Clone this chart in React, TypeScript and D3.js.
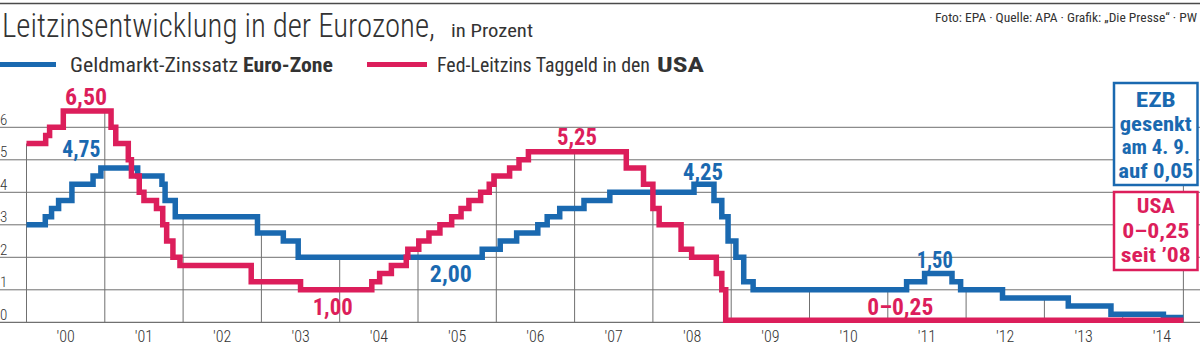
import React from 'react';
import * as d3 from 'd3';

// ---------- DATA ----------
// Step series: [start as decimal year, rate in %]
const ezbSteps: [number, number][] = [
  [2000.0, 3.0], [2000.24, 3.25], [2000.32, 3.5], [2000.41, 3.75], [2000.58, 4.25],
  [2000.85, 4.5], [2000.95, 4.75], [2001.42, 4.5], [2001.73, 4.25], [2001.77, 3.75],
  [2001.9, 3.25], [2002.95, 2.75], [2003.28, 2.5], [2003.47, 2.0], [2005.82, 2.25],
  [2006.05, 2.5], [2006.26, 2.75], [2006.53, 3.0], [2006.65, 3.25], [2006.81, 3.5],
  [2007.12, 3.75], [2007.45, 4.0], [2008.525, 4.25], [2008.78, 3.75], [2008.88, 3.25],
  [2008.96, 2.5], [2009.06, 2.0], [2009.16, 1.25], [2009.28, 1.0], [2011.24, 1.25],
  [2011.47, 1.5], [2011.82, 1.25], [2011.93, 1.0], [2012.465, 0.75], [2013.305, 0.5],
  [2013.85, 0.25], [2014.52, 0.15],
];

const fedSteps: [number, number][] = [
  [2000.0, 5.5], [2000.245, 5.75], [2000.295, 6.0], [2000.47, 6.5], [2001.08, 6.0],
  [2001.14, 5.5], [2001.3, 5.0], [2001.34, 4.5], [2001.44, 4.0], [2001.5, 3.75],
  [2001.66, 3.5], [2001.74, 3.0], [2001.79, 2.5], [2001.87, 2.0], [2001.96, 1.75],
  [2002.87, 1.25], [2003.5, 1.0], [2004.41, 1.25], [2004.51, 1.5], [2004.66, 1.75],
  [2004.85, 2.0], [2004.87, 2.25], [2005.01, 2.5], [2005.14, 2.75], [2005.28, 3.0],
  [2005.43, 3.25], [2005.55, 3.5], [2005.65, 3.75], [2005.8, 4.0], [2005.91, 4.25],
  [2005.97, 4.5], [2006.17, 4.75], [2006.29, 5.0], [2006.41, 5.25], [2007.66, 4.75],
  [2007.88, 4.25], [2008.0, 3.5], [2008.08, 3.0], [2008.36, 2.25], [2008.495, 2.0],
  [2008.81, 1.5], [2008.88, 1.0], [2008.93, 0.06],
];

const seriesEnd = 2014.775;

const years = d3.range(2000, 2015);
const yearLabels = ["'00", "'01", "'02", "'03", "'04", "'05", "'06", "'07", "'08", "'09", "'10", "'11", "'12", "'13", "'14"];
const yTicks = [0, 1, 2, 3, 4, 5, 6];

const valueLabels = [
  { text: '6,50', series: 'fed', t: 2000.76, v: 6.5 },
  { text: '4,75', series: 'ezb', t: 2000.7, v: 4.75 },
  { text: '1,00', series: 'fed', t: 2003.91, v: 1.0 },
  { text: '2,00', series: 'ezb', t: 2005.42, v: 2.0 },
  { text: '5,25', series: 'fed', t: 2007.03, v: 5.25 },
  { text: '4,25', series: 'ezb', t: 2008.64, v: 4.25 },
  { text: '1,50', series: 'ezb', t: 2011.6, v: 1.5 },
  { text: '0–0,25', series: 'fed', t: 2011.16, v: 0.06 },
];

const ezbNote = ['EZB', 'gesenkt', 'am 4. 9.', 'auf 0,05'];
const fedNote = ['USA', '0–0,25', 'seit ’08'];

// ---------- LAYOUT / STYLE ----------
const labelDy = [-6, -11, 25, 25, -7, -4, -5.5, -5];
const labelW = [42, 38, 40, 42, 40, 40, 36, 66];
const ezbNoteW = [40, 72, 68, 75];
const fedNoteW = [38, 67, 70];

const BLUE = '#1a69b0';
const RED = '#dc1e5b';
const GRID = '#707070';
const TXT = '#333333';
const FONT = "'Roboto Condensed', 'Liberation Sans Narrow', 'DejaVu Sans Condensed', Roboto, 'Open Sans', sans-serif";

export default function App() {
  const W = 1200;
  const H = 346;
  const x = d3.scaleLinear().domain([2000, 2015]).range([26.5, 1201]);
  const y = d3.scaleLinear().domain([0, 6]).range([322.3, 127.3]);

  const withEnd = (s: [number, number][]) => [...s, [seriesEnd, s[s.length - 1][1]] as [number, number]];
  const line = d3
    .line<[number, number]>()
    .x((d) => x(d[0]))
    .y((d) => y(d[1]))
    .curve(d3.curveStepAfter);

  const bis = d3.bisector((d: [number, number]) => d[0]).right;
  const valueAt = (s: [number, number][], t: number) => {
    const i = bis(s, t) - 1;
    return s[Math.max(0, i)][1];
  };

  const boxX = 1114;
  const boxW = 83.5;
  const ezbBox = { y: 83, h: 102 };
  const fedBox = { y: 192, h: 78 };
  const cx = boxX + boxW / 2;

  return (
    <svg
      width={W}
      height={H}
      viewBox={`0 0 ${W} ${H}`}
      style={{ position: 'absolute', left: 0, top: 0, background: '#fff', fontFamily: FONT }}
    >
      <rect x={0} y={0} width={W} height={H} fill="#fff" />
      {/* top rule */}
      <line x1={0} x2={W} y1={3.5} y2={3.5} stroke="#4a4a4a" strokeWidth={1.5} />

      {/* header */}
      <text x={2} y={37} fontSize={33} fontWeight={300} fill={TXT} textLength={433} lengthAdjust="spacingAndGlyphs">
        Leitzinsentwicklung in der Eurozone,
      </text>
      <text x={451} y={37} fontSize={18} fontWeight={400} fill={TXT} textLength={82} lengthAdjust="spacingAndGlyphs">
        in Prozent
      </text>
      <text x={1197} y={22} fontSize={13} fill={TXT} textAnchor="end" textLength={262} lengthAdjust="spacingAndGlyphs">
        Foto: EPA · Quelle: APA · Grafik: „Die Presse“ · PW
      </text>

      {/* legend */}
      <line x1={0} x2={56} y1={64.5} y2={64.5} stroke={BLUE} strokeWidth={5} />
      <text x={70} y={72} fontSize={20} fill={TXT} textLength={168} lengthAdjust="spacingAndGlyphs">
        Geldmarkt-Zinssatz
      </text>
      <text x={243} y={72} fontSize={20} fontWeight={700} fill={TXT} textLength={90} lengthAdjust="spacingAndGlyphs">
        Euro-Zone
      </text>
      <line x1={367} x2={427} y1={64.5} y2={64.5} stroke={RED} strokeWidth={5} />
      <text x={437} y={72} fontSize={20} fill={TXT} textLength={213} lengthAdjust="spacingAndGlyphs">
        Fed-Leitzins Taggeld in den
      </text>
      <text x={657} y={72} fontSize={20} fontWeight={700} fill={TXT} textLength={47} lengthAdjust="spacingAndGlyphs">
        USA
      </text>

      {/* horizontal grid */}
      {yTicks.map((v) => (
        <g key={v}>
          <line x1={0} x2={W} y1={y(v)} y2={y(v)} stroke={GRID} strokeWidth={v === 0 ? 1.3 : 1} />
          <text x={0} y={y(v) - 2.5} fontSize={15} fontWeight={300} fill={TXT}>
            {v}
          </text>
        </g>
      ))}

      {/* year separators, up to the higher series */}
      {years.map((yr) => {
        const top = Math.max(valueAt(ezbSteps, yr), valueAt(fedSteps, yr));
        return <line key={yr} x1={x(yr)} x2={x(yr)} y1={y(0)} y2={y(top)} stroke={GRID} strokeWidth={1} />;
      })}

      {/* year labels */}
      {years.map((yr, i) => (
        <text key={yr} x={x(yr + 0.5)} y={342} fontSize={16} fontWeight={300} fill={TXT} textAnchor="middle">
          {yearLabels[i]}
        </text>
      ))}

      {/* connector to notes */}
      <line x1={x(seriesEnd)} x2={x(seriesEnd)} y1={y(0)} y2={ezbBox.y + ezbBox.h} stroke={GRID} strokeWidth={1} />

      {/* series */}
      <path d={line(withEnd(ezbSteps)) || ''} fill="none" stroke={BLUE} strokeWidth={5.5} strokeLinejoin="miter" />
      <path d={line(withEnd(fedSteps)) || ''} fill="none" stroke={RED} strokeWidth={5.5} strokeLinejoin="miter" />

      {/* value labels */}
      {valueLabels.map((l, i) => (
        <text
          key={l.text}
          x={x(l.t)}
          y={y(l.v) + labelDy[i]}
          fontSize={23}
          fontWeight={700}
          fill={l.series === 'fed' ? RED : BLUE}
          textAnchor="middle"
          textLength={labelW[i]}
          lengthAdjust="spacingAndGlyphs"
        >
          {l.text}
        </text>
      ))}

      {/* note boxes */}
      <rect x={boxX} y={ezbBox.y} width={boxW} height={ezbBox.h} fill="#fff" stroke={BLUE} strokeWidth={2.5} />
      {ezbNote.map((s, i) => (
        <text
          key={s}
          x={cx}
          y={107 + i * 23.7}
          fontSize={21}
          fontWeight={700}
          fill={BLUE}
          textAnchor="middle"
          textLength={ezbNoteW[i]}
          lengthAdjust="spacingAndGlyphs"
        >
          {s}
        </text>
      ))}
      <rect x={boxX} y={fedBox.y} width={boxW} height={fedBox.h} fill="#fff" stroke={RED} strokeWidth={2.5} />
      {fedNote.map((s, i) => (
        <text
          key={s}
          x={cx}
          y={213 + i * 24.5}
          fontSize={21}
          fontWeight={700}
          fill={RED}
          textAnchor="middle"
          textLength={fedNoteW[i]}
          lengthAdjust="spacingAndGlyphs"
        >
          {s}
        </text>
      ))}
    </svg>
  );
}
